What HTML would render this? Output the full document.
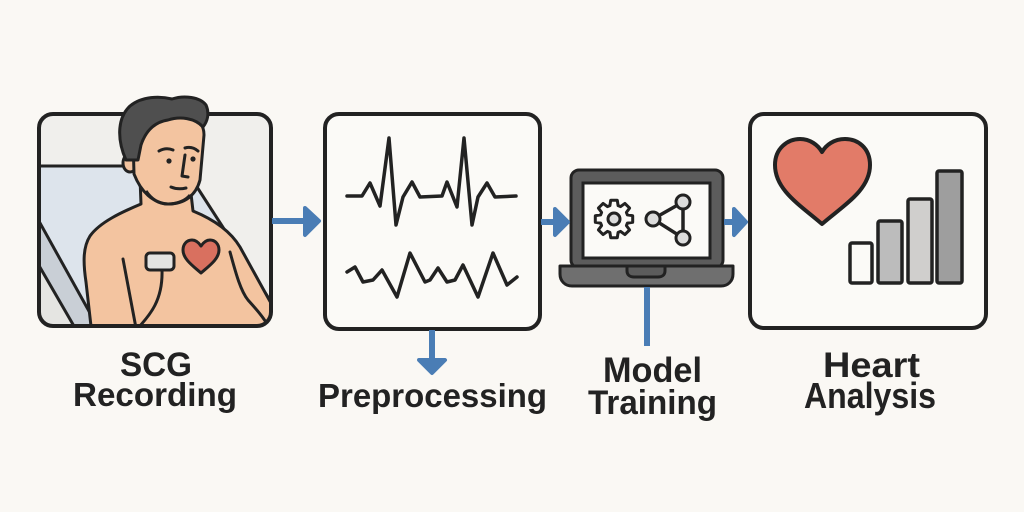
<!DOCTYPE html>
<html>
<head>
<meta charset="utf-8">
<style>
  html,body{margin:0;padding:0;background:#faf8f4;}
  svg{display:block;}
  text{font-family:"Liberation Sans",Arial,sans-serif;font-weight:bold;fill:#222;}
</style>
</head>
<body>
<svg width="1024" height="512" viewBox="0 0 1024 512" xmlns="http://www.w3.org/2000/svg">
  <rect width="1024" height="512" fill="#faf8f4"/>
  <defs>
    <clipPath id="c1"><rect x="39" y="114" width="232" height="212" rx="14"/></clipPath>
  </defs>

  <!-- ===== Box 1: SCG recording ===== -->
  <g clip-path="url(#c1)">
    <rect x="39" y="114" width="232" height="212" fill="#f0efec"/>
    <polygon points="30,166 135,166 197,187 272,303 272,330 30,330" fill="#dde4ec"/>
    <line x1="30" y1="166" x2="135" y2="166" stroke="#222" stroke-width="3"/>
    <line x1="197" y1="187" x2="275" y2="308" stroke="#222" stroke-width="3"/>
    <polygon points="30,205 30,250 82,340 105,340" fill="#c9cfd6"/>
    <polygon points="30,250 30,340 82,340" fill="#e5e5e2"/>
    <line x1="30" y1="205" x2="105" y2="340" stroke="#222" stroke-width="3"/>
    <line x1="30" y1="250" x2="82" y2="340" stroke="#222" stroke-width="3"/>
    <!-- torso -->
    <path d="M140,178 L141,204 C122,212 100,222 90,236 C83,247 83,262 86,282 L92,335 L275,335 L272,305 C262,287 250,265 240,247 C231,232 215,220 193,211 L190,185 Z" fill="#f3c4a0" stroke="#222" stroke-width="3" stroke-linejoin="round"/>
    <path d="M123,259 L136,328" fill="none" stroke="#222" stroke-width="3" stroke-linecap="round"/>
    <path d="M230,252 C235,270 240,290 248,300 C255,308 262,315 267,324" fill="none" stroke="#222" stroke-width="3" stroke-linecap="round"/>
    <path d="M162,270 C163,300 150,315 138,328" fill="none" stroke="#222" stroke-width="3" stroke-linecap="round"/>
    <rect x="146" y="253" width="28" height="17" rx="4" fill="#e3e3e1" stroke="#222" stroke-width="3"/>
    <path d="M201,273 C193,266 183,259 183,250 C183,244 187,240 192,240 C196,240 199,243 201,246 C203,243 206,240 210,240 C215,240 219,244 219,250 C219,259 209,266 201,273 Z" fill="#d9705f" stroke="#222" stroke-width="3" stroke-linejoin="round"/>
  </g>
  <rect x="39" y="114" width="232" height="212" rx="14" fill="none" stroke="#222" stroke-width="4"/>
  <!-- head -->
  <ellipse cx="130" cy="163" rx="7" ry="9" fill="#f3c4a0" stroke="#222" stroke-width="3"/>
  <path d="M133,138 L134,174 C141,192 153,203 168,204 C185,204 196,195 200,180 L204,135 C204,120 190,110 170,110 C150,110 133,120 133,138 Z" fill="#f3c4a0" stroke="#222" stroke-width="3" stroke-linejoin="round"/>
  <path d="M146,191 C152,200 160,204 168,204 C178,204 186,200 190,195" fill="none" stroke="#222" stroke-width="3"/>
  <path d="M126,160 C117,140 117,118 130,106 C142,96 160,96 172,99 C184,95 200,97 206,105 C210,114 207,122 203,127 C195,118 180,116 168,120 C155,122 146,130 141,145 L138,160 Z" fill="#4f4f4f" stroke="#222" stroke-width="3" stroke-linejoin="round"/>
  <path d="M159,151 Q166,147 173,150" fill="none" stroke="#222" stroke-width="3" stroke-linecap="round"/>
  <path d="M185,148 Q192,146 198,151" fill="none" stroke="#222" stroke-width="3" stroke-linecap="round"/>
  <circle cx="169" cy="161" r="2.6" fill="#222"/>
  <circle cx="193" cy="159" r="2.6" fill="#222"/>
  <path d="M185,155 L182,176 L188,177" fill="none" stroke="#222" stroke-width="3" stroke-linecap="round" stroke-linejoin="round"/>
  <path d="M171,187 Q178,190 186,188" fill="none" stroke="#222" stroke-width="3" stroke-linecap="round"/>

  <!-- ===== Box 2: Preprocessing ===== -->
  <rect x="325" y="114" width="215" height="215" rx="14" fill="#fbfaf7" stroke="#222" stroke-width="4"/>
  <polyline points="347,196 362,196 370,183 380,206 389,138 396,225 403,197 412,182 420,197 442,196 447,182 457,207 464,138 472,225 478,197 487,183 495,197 516,196" fill="none" stroke="#222" stroke-width="3.5" stroke-linejoin="round" stroke-linecap="round"/>
  <polyline points="347,272 355,267 363,282 373,280 382,270 397,297 410,253 425,282 430,280 438,268 447,282 455,280 463,265 478,297 493,253 507,285 517,277" fill="none" stroke="#222" stroke-width="3.5" stroke-linejoin="round" stroke-linecap="round"/>

  <!-- ===== Laptop ===== -->
  <rect x="571" y="170" width="152" height="98" rx="8" fill="#5c5c5c" stroke="#222" stroke-width="3"/>
  <rect x="583" y="183" width="127" height="75" fill="#fbfaf7" stroke="#222" stroke-width="3"/>
  <path d="M560,266 L733,266 L733,274 C733,281 728,286 721,286 L572,286 C565,286 560,281 560,274 Z" fill="#6f6f6f" stroke="#222" stroke-width="3" stroke-linejoin="round"/>
  <path d="M627,266 L665,266 L665,271 C665,275 662,277 658,277 L634,277 C630,277 627,275 627,271 Z" fill="#5c5c5c" stroke="#222" stroke-width="3"/>
  <polygon points="627.4,214.9 632.7,215.7 632.7,222.3 627.4,223.1 626.4,225.6 629.6,229.9 624.9,234.6 620.6,231.4 618.1,232.4 617.3,237.7 610.7,237.7 609.9,232.4 607.4,231.4 603.1,234.6 598.4,229.9 601.6,225.6 600.6,223.1 595.3,222.3 595.3,215.7 600.6,214.9 601.6,212.4 598.4,208.1 603.1,203.4 607.4,206.6 609.9,205.6 610.7,200.3 617.3,200.3 618.1,205.6 620.6,206.6 624.9,203.4 629.6,208.1 626.4,212.4" fill="#fbfaf7" stroke="#222" stroke-width="3" stroke-linejoin="round"/>
  <circle cx="614" cy="219" r="6" fill="#dcdcdc" stroke="#222" stroke-width="3"/>
  <path d="M653,219 L683,202 L683,238 Z" fill="none" stroke="#222" stroke-width="3.5"/>
  <circle cx="653" cy="219" r="7" fill="#dcdcdc" stroke="#222" stroke-width="3"/>
  <circle cx="683" cy="202" r="7" fill="#dcdcdc" stroke="#222" stroke-width="3"/>
  <circle cx="683" cy="238" r="7" fill="#dcdcdc" stroke="#222" stroke-width="3"/>

  <!-- ===== Box 4: Heart Analysis ===== -->
  <rect x="750" y="114" width="236" height="214" rx="14" fill="#fbfaf7" stroke="#222" stroke-width="4"/>
  <path d="M822,224 C800,205 775,190 775,165 C775,148 788,139 800,139 C810,139 818,145 822,152 C826,145 834,139 845,139 C858,139 870,148 870,165 C870,190 844,205 822,224 Z" fill="#e27b68" stroke="#222" stroke-width="4" stroke-linejoin="round"/>
  <rect x="850" y="243" width="22" height="40" rx="2" fill="#fbfaf7" stroke="#222" stroke-width="3.5"/>
  <rect x="878" y="221" width="24" height="62" rx="2" fill="#bcbcbc" stroke="#222" stroke-width="3.5"/>
  <rect x="908" y="199" width="24" height="84" rx="2" fill="#d0cfcd" stroke="#222" stroke-width="3.5"/>
  <rect x="937" y="171" width="25" height="112" rx="2" fill="#9e9e9e" stroke="#222" stroke-width="3.5"/>

  <!-- ===== Arrows ===== -->
  <g stroke="#4a7db5" fill="#4a7db5" stroke-linejoin="round" stroke-linecap="butt">
    <line x1="272" y1="221" x2="312" y2="221" stroke-width="6"/>
    <polygon points="305,208 319,221 305,235" stroke-width="4"/>
    <line x1="541" y1="222" x2="561" y2="222" stroke-width="6"/>
    <polygon points="555,209 568,222 555,235" stroke-width="4"/>
    <line x1="724" y1="222" x2="740" y2="222" stroke-width="6"/>
    <polygon points="734,209 746,222 734,235" stroke-width="4"/>
    <line x1="432" y1="330" x2="432" y2="364" stroke-width="6"/>
    <polygon points="419,360 432,373 445,360" stroke-width="4"/>
    <line x1="647" y1="287" x2="647" y2="346" stroke-width="6"/>
  </g>

  <!-- ===== Labels ===== -->
  <text x="120" y="376" font-size="34" textLength="72" lengthAdjust="spacingAndGlyphs">SCG</text>
  <text x="73" y="406" font-size="33" textLength="164" lengthAdjust="spacingAndGlyphs">Recording</text>
  <text x="318" y="407" font-size="33" textLength="229" lengthAdjust="spacingAndGlyphs">Preprocessing</text>
  <text x="603" y="382" font-size="35" textLength="99" lengthAdjust="spacingAndGlyphs">Model</text>
  <text x="588" y="414" font-size="34" textLength="129" lengthAdjust="spacingAndGlyphs">Training</text>
  <text x="823" y="377" font-size="35" textLength="97" lengthAdjust="spacingAndGlyphs">Heart</text>
  <text x="804" y="408" font-size="36" textLength="132" lengthAdjust="spacingAndGlyphs">Analysis</text>
</svg>
</body>
</html>
